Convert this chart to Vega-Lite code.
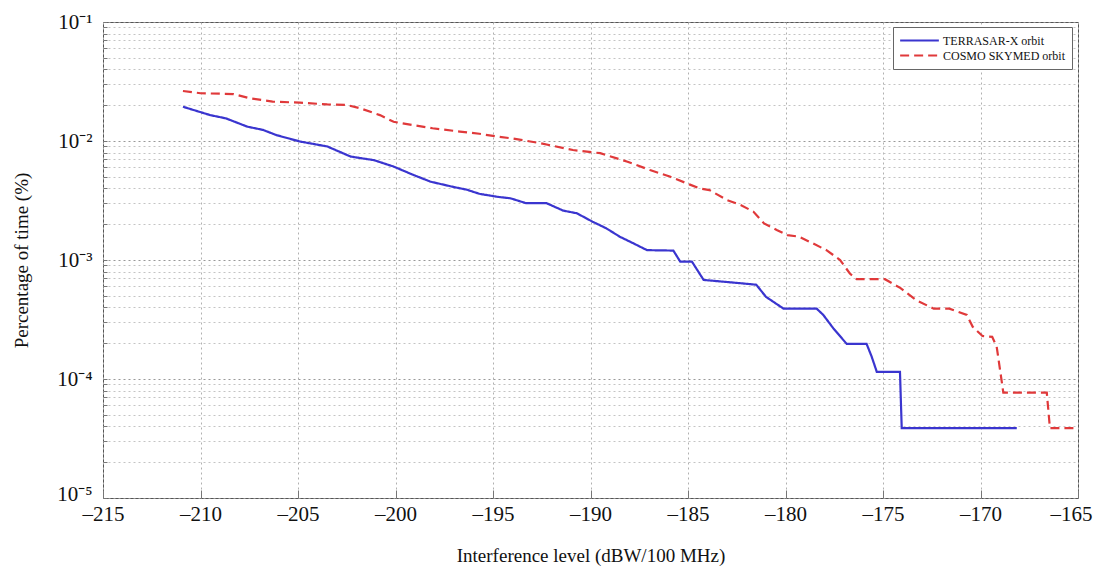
{
  "$schema": "https://vega.github.io/schema/vega-lite/v6.json",
  "width": 975,
  "height": 476,
  "autosize": {"type": "none"},
  "padding": {"left": 103, "top": 22, "right": 18, "bottom": 75},
  "background": "white",
  "config": {
    "font": "Liberation Serif",
    "view": {"stroke": "#555", "strokeWidth": 1},
    "legend": {
      "fillColor": "white",
      "strokeColor": "#666",
      "padding": 6,
      "symbolType": "stroke",
      "symbolSize": 1500,
      "symbolStrokeWidth": 2.2,
      "labelFontSize": 12,
      "labelFont": "Liberation Serif",
      "labelColor": "#111",
      "labelOffset": 3,
      "clipHeight": 15,
      "rowPadding": 0,
      "labelLimit": 250
    }
  },
  "data": {
    "values": [
      {"series": "TERRASAR-X orbit", "level": -210.9, "pct": 0.0194},
      {"series": "TERRASAR-X orbit", "level": -209.5, "pct": 0.0165},
      {"series": "TERRASAR-X orbit", "level": -208.7, "pct": 0.0155},
      {"series": "TERRASAR-X orbit", "level": -207.6, "pct": 0.0132},
      {"series": "TERRASAR-X orbit", "level": -206.8, "pct": 0.0124},
      {"series": "TERRASAR-X orbit", "level": -206.1, "pct": 0.0112},
      {"series": "TERRASAR-X orbit", "level": -204.9, "pct": 0.0099},
      {"series": "TERRASAR-X orbit", "level": -203.5, "pct": 0.009},
      {"series": "TERRASAR-X orbit", "level": -202.3, "pct": 0.0074},
      {"series": "TERRASAR-X orbit", "level": -201.1, "pct": 0.0069},
      {"series": "TERRASAR-X orbit", "level": -200.1, "pct": 0.0061},
      {"series": "TERRASAR-X orbit", "level": -199.1, "pct": 0.0052},
      {"series": "TERRASAR-X orbit", "level": -198.2, "pct": 0.00455},
      {"series": "TERRASAR-X orbit", "level": -197.0, "pct": 0.0041},
      {"series": "TERRASAR-X orbit", "level": -196.35, "pct": 0.0039},
      {"series": "TERRASAR-X orbit", "level": -195.7, "pct": 0.0036},
      {"series": "TERRASAR-X orbit", "level": -194.8, "pct": 0.0034},
      {"series": "TERRASAR-X orbit", "level": -194.1, "pct": 0.0033},
      {"series": "TERRASAR-X orbit", "level": -193.3, "pct": 0.003},
      {"series": "TERRASAR-X orbit", "level": -192.25, "pct": 0.003},
      {"series": "TERRASAR-X orbit", "level": -191.4, "pct": 0.0026},
      {"series": "TERRASAR-X orbit", "level": -190.7, "pct": 0.00247},
      {"series": "TERRASAR-X orbit", "level": -189.9, "pct": 0.0021},
      {"series": "TERRASAR-X orbit", "level": -189.2, "pct": 0.00185},
      {"series": "TERRASAR-X orbit", "level": -188.5, "pct": 0.00157},
      {"series": "TERRASAR-X orbit", "level": -187.8, "pct": 0.00138},
      {"series": "TERRASAR-X orbit", "level": -187.1, "pct": 0.00121},
      {"series": "TERRASAR-X orbit", "level": -185.75, "pct": 0.0012},
      {"series": "TERRASAR-X orbit", "level": -185.4, "pct": 0.00097},
      {"series": "TERRASAR-X orbit", "level": -184.8, "pct": 0.00097},
      {"series": "TERRASAR-X orbit", "level": -184.2, "pct": 0.00068},
      {"series": "TERRASAR-X orbit", "level": -182.4, "pct": 0.00064},
      {"series": "TERRASAR-X orbit", "level": -181.5, "pct": 0.00062},
      {"series": "TERRASAR-X orbit", "level": -181.0, "pct": 0.00049},
      {"series": "TERRASAR-X orbit", "level": -180.1, "pct": 0.00039},
      {"series": "TERRASAR-X orbit", "level": -178.4, "pct": 0.00039},
      {"series": "TERRASAR-X orbit", "level": -178.06, "pct": 0.000345},
      {"series": "TERRASAR-X orbit", "level": -177.55, "pct": 0.000267},
      {"series": "TERRASAR-X orbit", "level": -176.86, "pct": 0.000197},
      {"series": "TERRASAR-X orbit", "level": -175.84, "pct": 0.000197},
      {"series": "TERRASAR-X orbit", "level": -175.58, "pct": 0.000154},
      {"series": "TERRASAR-X orbit", "level": -175.32, "pct": 0.000115},
      {"series": "TERRASAR-X orbit", "level": -174.13, "pct": 0.000115},
      {"series": "TERRASAR-X orbit", "level": -174.04, "pct": 0.0000386},
      {"series": "TERRASAR-X orbit", "level": -168.14, "pct": 0.0000386},
      {"series": "COSMO SKYMED orbit", "level": -210.9, "pct": 0.0263},
      {"series": "COSMO SKYMED orbit", "level": -210.0, "pct": 0.0252},
      {"series": "COSMO SKYMED orbit", "level": -208.3, "pct": 0.0248},
      {"series": "COSMO SKYMED orbit", "level": -207.5, "pct": 0.0229},
      {"series": "COSMO SKYMED orbit", "level": -206.3, "pct": 0.0214},
      {"series": "COSMO SKYMED orbit", "level": -204.9, "pct": 0.021},
      {"series": "COSMO SKYMED orbit", "level": -203.5, "pct": 0.0203},
      {"series": "COSMO SKYMED orbit", "level": -202.5, "pct": 0.0201},
      {"series": "COSMO SKYMED orbit", "level": -201.8, "pct": 0.0188},
      {"series": "COSMO SKYMED orbit", "level": -200.8, "pct": 0.0165},
      {"series": "COSMO SKYMED orbit", "level": -200.1, "pct": 0.0145},
      {"series": "COSMO SKYMED orbit", "level": -199.1, "pct": 0.0136},
      {"series": "COSMO SKYMED orbit", "level": -198.1, "pct": 0.0128},
      {"series": "COSMO SKYMED orbit", "level": -196.7, "pct": 0.012},
      {"series": "COSMO SKYMED orbit", "level": -195.7, "pct": 0.0115},
      {"series": "COSMO SKYMED orbit", "level": -194.8, "pct": 0.0109},
      {"series": "COSMO SKYMED orbit", "level": -194.0, "pct": 0.0105},
      {"series": "COSMO SKYMED orbit", "level": -192.6, "pct": 0.0096},
      {"series": "COSMO SKYMED orbit", "level": -190.9, "pct": 0.0084},
      {"series": "COSMO SKYMED orbit", "level": -189.5, "pct": 0.0079},
      {"series": "COSMO SKYMED orbit", "level": -188.1, "pct": 0.0067},
      {"series": "COSMO SKYMED orbit", "level": -186.95, "pct": 0.0057},
      {"series": "COSMO SKYMED orbit", "level": -185.9, "pct": 0.005},
      {"series": "COSMO SKYMED orbit", "level": -184.9, "pct": 0.0043},
      {"series": "COSMO SKYMED orbit", "level": -184.4, "pct": 0.0040},
      {"series": "COSMO SKYMED orbit", "level": -183.9, "pct": 0.00387},
      {"series": "COSMO SKYMED orbit", "level": -183.0, "pct": 0.00319},
      {"series": "COSMO SKYMED orbit", "level": -182.3, "pct": 0.0029},
      {"series": "COSMO SKYMED orbit", "level": -181.65, "pct": 0.00255},
      {"series": "COSMO SKYMED orbit", "level": -181.1, "pct": 0.00203},
      {"series": "COSMO SKYMED orbit", "level": -180.45, "pct": 0.00179},
      {"series": "COSMO SKYMED orbit", "level": -179.9, "pct": 0.00162},
      {"series": "COSMO SKYMED orbit", "level": -179.3, "pct": 0.00157},
      {"series": "COSMO SKYMED orbit", "level": -178.6, "pct": 0.00138},
      {"series": "COSMO SKYMED orbit", "level": -177.9, "pct": 0.00121},
      {"series": "COSMO SKYMED orbit", "level": -177.2, "pct": 0.001},
      {"series": "COSMO SKYMED orbit", "level": -176.7, "pct": 0.00077},
      {"series": "COSMO SKYMED orbit", "level": -176.35, "pct": 0.00069},
      {"series": "COSMO SKYMED orbit", "level": -174.9, "pct": 0.00069},
      {"series": "COSMO SKYMED orbit", "level": -174.1, "pct": 0.00058},
      {"series": "COSMO SKYMED orbit", "level": -173.3, "pct": 0.00046},
      {"series": "COSMO SKYMED orbit", "level": -172.4, "pct": 0.00039},
      {"series": "COSMO SKYMED orbit", "level": -171.6, "pct": 0.00039},
      {"series": "COSMO SKYMED orbit", "level": -170.7, "pct": 0.000345},
      {"series": "COSMO SKYMED orbit", "level": -170.4, "pct": 0.000275},
      {"series": "COSMO SKYMED orbit", "level": -169.9, "pct": 0.00023},
      {"series": "COSMO SKYMED orbit", "level": -169.4, "pct": 0.000226},
      {"series": "COSMO SKYMED orbit", "level": -169.17, "pct": 0.000187},
      {"series": "COSMO SKYMED orbit", "level": -168.91, "pct": 0.000095},
      {"series": "COSMO SKYMED orbit", "level": -168.83, "pct": 0.0000767},
      {"series": "COSMO SKYMED orbit", "level": -166.6, "pct": 0.0000767},
      {"series": "COSMO SKYMED orbit", "level": -166.44, "pct": 0.0000386},
      {"series": "COSMO SKYMED orbit", "level": -165.0, "pct": 0.0000386}
    ]
  },
  "mark": {"type": "line", "strokeWidth": 2.2, "clip": true},
  "encoding": {
    "x": {
      "field": "level",
      "type": "quantitative",
      "scale": {"domain": [-215, -165], "nice": false, "zero": false},
      "axis": {
        "title": "Interference level (dBW/100 MHz)",
        "values": [-215, -210, -205, -200, -195, -190, -185, -180, -175, -170, -165],
        "labelExpr": "'–' + abs(datum.value)",
        "labelFontSize": 21,
        "labelColor": "#111",
        "labelFlush": false,
        "labelPadding": 13,
        "labelOffset": {"condition": {"test": "datum.value == -165", "value": -7}, "value": 0},
        "tickSize": -8,
        "tickColor": "#777",
        "domain": false,
        "grid": true,
        "gridDash": [2, 3],
        "gridColor": "#b0b0b0",
        "titleFontSize": 19,
        "titleFontWeight": "normal",
        "titleColor": "#111",
        "titleBaseline": "middle",
        "titleY": 57
      }
    },
    "y": {
      "field": "pct",
      "type": "quantitative",
      "scale": {"type": "log", "domain": [0.00001, 0.1], "nice": false},
      "axis": {
        "title": "Percentage of time (%)",
        "values": [0.00001, 0.00002, 0.00003, 0.00004, 0.00005, 0.00006, 0.00007, 0.00008, 0.00009,
                   0.0001, 0.0002, 0.0003, 0.0004, 0.0005, 0.0006, 0.0007, 0.0008, 0.0009,
                   0.001, 0.002, 0.003, 0.004, 0.005, 0.006, 0.007, 0.008, 0.009,
                   0.01, 0.02, 0.03, 0.04, 0.05, 0.06, 0.07, 0.08, 0.09, 0.1],
        "labelExpr": "abs(log(datum.value)/LN10 - round(log(datum.value)/LN10)) < 0.001 ? '10' + ['⁻¹','⁻²','⁻³','⁻⁴','⁻⁵'][-round(log(datum.value)/LN10)-1] : ''",
        "labelOverlap": false,
        "labelFlush": false,
        "labelFontSize": 21,
        "labelColor": "#111",
        "labelPadding": 15,
        "labelOffset": {"condition": {"test": "datum.value < 0.000011", "value": -4}, "value": 0},
        "tickSize": -4,
        "tickColor": "#777",
        "domain": false,
        "grid": true,
        "gridDash": [2, 3],
        "gridColor": {
          "condition": {"test": "abs(log(datum.value)/LN10 - round(log(datum.value)/LN10)) < 0.001", "value": "#999"},
          "value": "#c4c4c4"
        },
        "titleFontSize": 19,
        "titleFontWeight": "normal",
        "titleColor": "#111",
        "titleBaseline": "middle",
        "titleX": -82
      }
    },
    "color": {
      "field": "series",
      "type": "nominal",
      "scale": {"domain": ["TERRASAR-X orbit", "COSMO SKYMED orbit"], "range": ["#3a35cf", "#e0393a"]},
      "legend": {"title": null, "orient": "none", "legendX": 790, "legendY": 5}
    },
    "strokeDash": {
      "field": "series",
      "type": "nominal",
      "scale": {"domain": ["TERRASAR-X orbit", "COSMO SKYMED orbit"], "range": [[1, 0], [9, 5]]},
      "legend": {"title": null, "orient": "none", "legendX": 790, "legendY": 5}
    }
  }
}
